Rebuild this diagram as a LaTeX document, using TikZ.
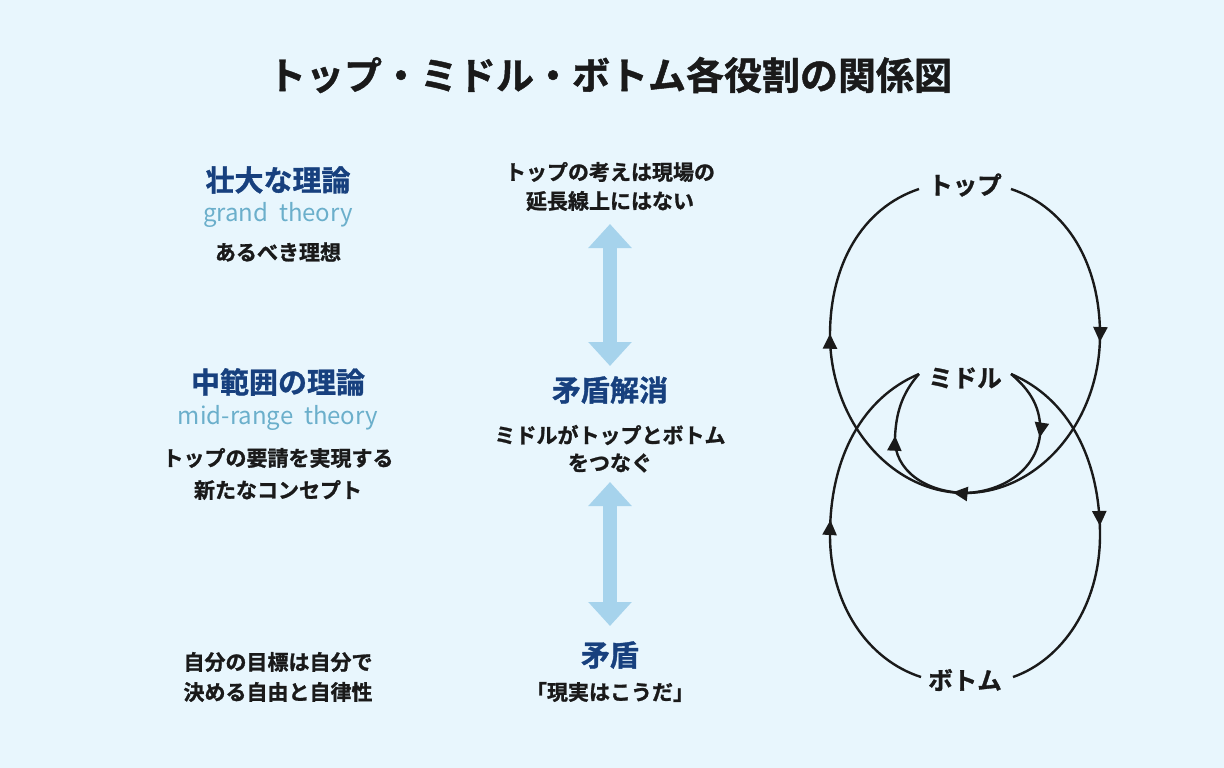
\documentclass[tikz,border=0pt]{standalone}
\usepackage{fontspec}
\setmainfont{Noto Sans CJK JP}
\newfontfamily\jpb{Noto Sans CJK JP}[BoldFont={* Bold},BoldFeatures={FakeBold=1.2}]
\usetikzlibrary{arrows.meta,decorations.markings}
\definecolor{bg}{HTML}{E8F6FD}
\definecolor{dblue}{HTML}{17407E}
\definecolor{lblue}{HTML}{6BAFCB}
\definecolor{arr}{HTML}{A6D3EC}
\definecolor{ink}{HTML}{1A1A1A}
\begin{document}
\begin{tikzpicture}[x=1pt,y=-1pt,
  head/.style={font=\jpb\bfseries\fontsize{29}{32}\selectfont,text=dblue,inner sep=0},
  lat/.style={font=\jpb\fontsize{24}{26}\selectfont,text=lblue,inner sep=0},
  body/.style={font=\jpb\bfseries\fontsize{21}{23}\selectfont,text=ink,inner sep=0},
  lbl/.style={font=\jpb\bfseries\fontsize{24.5}{27}\selectfont,text=ink,inner sep=0},
  darr/.style={arr,line width=14pt,{Triangle[width=42pt,length=24pt]}-{Triangle[width=42pt,length=24pt]}},
  loop/.style={draw=ink,line width=2.4pt},
  mk/.style={postaction={decorate,decoration={markings,mark=at position #1 with {\arrow[ink]{Triangle[width=14pt,length=15pt]}}}}}]
\fill[bg] (0,0) rectangle (1224,768);
\node[font=\jpb\bfseries\fontsize{38}{42}\selectfont,text=ink] (title) at (610,75) {トップ・ミドル・ボトム各役割の関係図};
% left column
\node[head] (g1) at (278,180) {壮大な理論};
\node[lat] (g2) at (278,215) {grand\ \ theory};
\node[body] (g3) at (278,252) {あるべき理想};
\node[head] (m1) at (278,382) {中範囲の理論};
\node[lat] (m2) at (278,418) {mid-range\ \ theory};
\node[body] (m3) at (278,458) {トップの要請を実現する};
\node[body] (m4) at (278,490) {新たなコンセプト};
\node[body] (b1) at (278,662) {自分の目標は自分で};
\node[body] (b2) at (278,692) {決める自由と自律性};
% middle column
\node[body] (c1) at (610,172) {トップの考えは現場の};
\node[body] (c2) at (610,201) {延長線上にはない};
\node[head] (c3) at (610,390) {矛盾解消};
\node[body] (c4) at (610,435) {ミドルがトップとボトム};
\node[body] (c5) at (610,463) {をつなぐ};
\node[head] (c6) at (610,655) {矛盾};
\node[body] (c7) at (610,692) {「現実はこうだ」};
\coordinate (a1) at (610,224); \coordinate (a2) at (610,366);
\coordinate (a3) at (610,482); \coordinate (a4) at (610,626);
\draw[darr] (a1) -- (a2);
\draw[darr] (a3) -- (a4);
% right diagram
\node[lbl] (top) at (965,185) {トップ};
\node[lbl] (mid) at (965,378) {ミドル};
\node[lbl] (bot) at (965,680) {ボトム};
\coordinate (tR) at (1011,189); \coordinate (tL) at (919,189);
\coordinate (mR) at (1011,374); \coordinate (mL) at (919,374);
\coordinate (bR) at (1013,677); \coordinate (bL) at (921,677);
\coordinate (low) at (965,493);
\draw[loop,mk=0.23,mk=0.515,mk=0.78] (tR) .. controls (1068,208) and (1100,265) .. (1100,335)
  .. controls (1100,420) and (1040,493) .. (low)
  .. controls (890,493) and (830,420) .. (830,335)
  .. controls (830,265) and (862,208) .. (tL);
\draw[loop,mk=0.5] (mR) .. controls (1068,398) and (1100,458) .. (1100,535) .. controls (1100,605) and (1062,660) .. (bR);
\draw[loop,mk=0.52] (bL) .. controls (868,660) and (830,605) .. (830,535) .. controls (830,458) and (862,398) .. (mL);
\draw[loop,mk=0.42] (mR) .. controls (1030,390) and (1042,408) .. (1040,435) .. controls (1036,472) and (1000,492) .. (low);
\draw[loop,mk=0.6] (low) .. controls (925,492) and (894,470) .. (895,438) .. controls (896,408) and (905,390) .. (mL);
\end{tikzpicture}
\end{document}
